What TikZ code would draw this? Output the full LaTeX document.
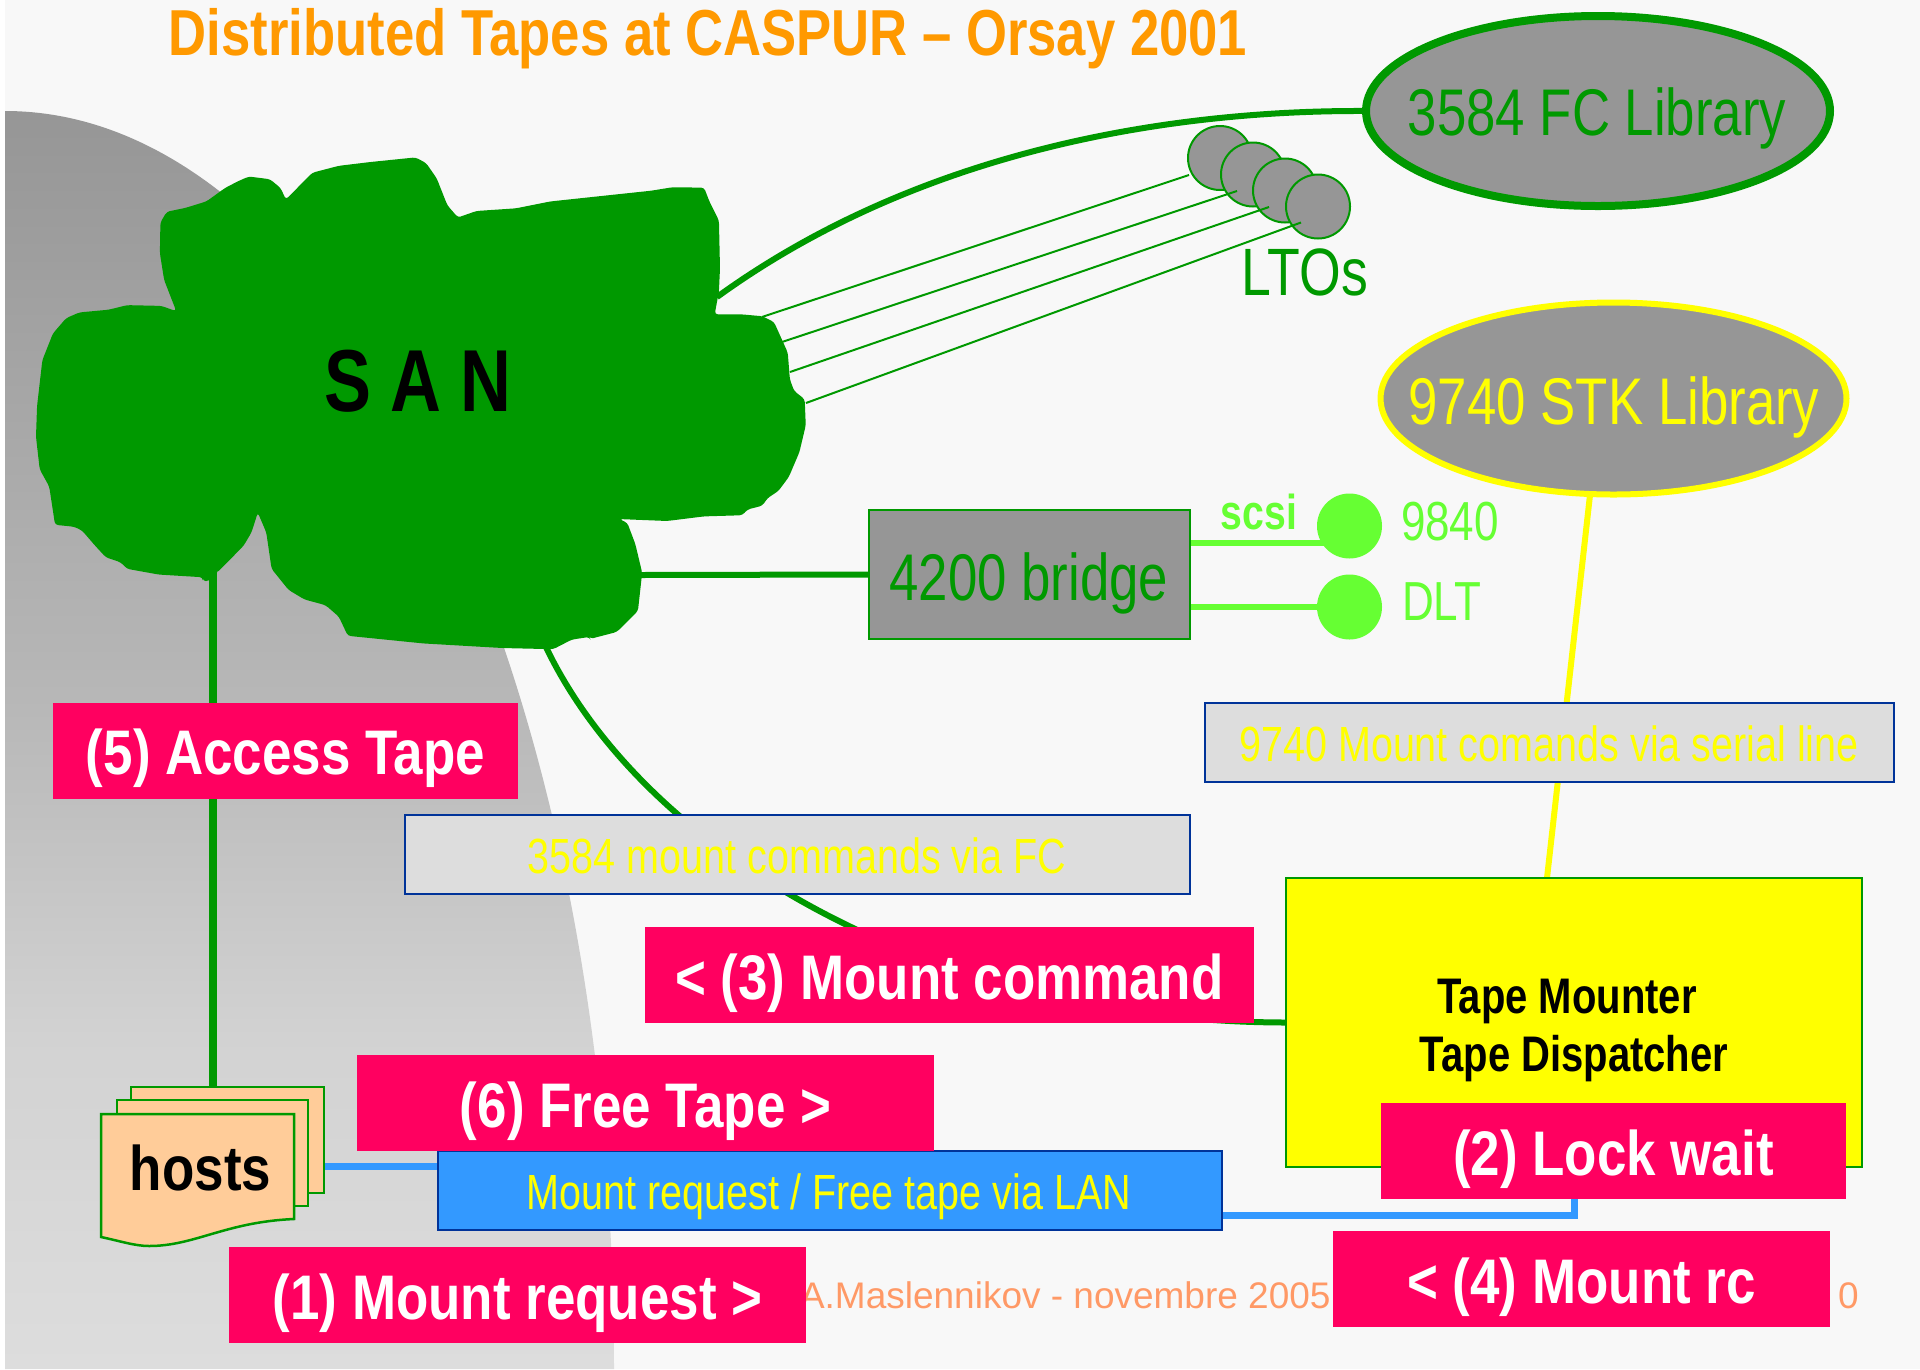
\documentclass[tikz,border=0pt]{standalone}
\usepackage{fontspec}
\usetikzlibrary{shapes.geometric}
\setmainfont{Liberation Sans}
\newfontfamily\cn[FakeStretch=0.8]{Liberation Sans}
\newfontfamily\cb[FakeStretch=0.84]{Liberation Sans}
\newfontfamily\ct[FakeStretch=0.81]{Liberation Sans}
\definecolor{gr}{HTML}{009900}
\definecolor{lg}{HTML}{66FF33}
\definecolor{rd}{HTML}{FF0060}
\definecolor{gy}{HTML}{969696}
\definecolor{bl}{HTML}{3399FF}
\definecolor{nv}{HTML}{003399}
\definecolor{lb}{HTML}{DDDDDD}
\definecolor{or}{HTML}{FF9900}
\definecolor{ft}{HTML}{FF9966}
\definecolor{pc}{HTML}{FFCC99}
\definecolor{pg}{HTML}{F8F8F8}
\definecolor{yl}{HTML}{FFFF00}
\pgfdeclareverticalshading{grayfade}{100bp}{color(0bp)=(lb); color(25bp)=(lb); color(38bp)=(lb!85!gy); color(51.5bp)=(lb!47!gy); color(75bp)=(gy); color(100bp)=(gy)}
\pgfdeclarelayer{base}
\pgfdeclarelayer{conn}
\pgfsetlayers{base,conn,main}
\tikzset{
  x=1pt,y=-1pt,inner sep=0pt,outer sep=0pt,
  redbox/.style={fill=rd,text=white,font={\fontsize{63}{70}\cb\bfseries},minimum height=96pt,text height=62pt,text depth=14pt},
  lblbox/.style={fill=lb,draw=nv,line width=2pt,minimum height=79pt},
  lbltext/.style={text=yl,font={\fontsize{49.4}{52}\cn}},
  thick green/.style={draw=gr,line width=6pt},
  thin green/.style={draw=gr,line width=2pt},
  scsi line/.style={draw=lg,line width=6pt},
  lan line/.style={draw=bl,line width=7pt},
  serial line/.style={draw=yl,line width=6pt},
  lib/.style={ellipse,fill=gy},
  libtext/.style={font={\fontsize{66}{70}\cn}},
  lto/.style={circle,fill=gy,draw=gr,line width=2pt,minimum size=64pt},
  drive/.style={ellipse,fill=lg,minimum width=65pt,minimum height=65pt},
  drivelabel/.style={text=lg,anchor=west,font={\fontsize{55}{58}\cn}},
  page/.style={fill=pc,draw=gr,line width=2.5pt},
}
\begin{document}
\begin{tikzpicture}
\useasboundingbox (0,0) rectangle (1920,1369);
\begin{pgfonlayer}{base}
\fill[white] (0,0) rectangle (1920,1369);
\fill[pg] (5,0) rectangle (1920,1369);
\shade[shading=grayfade] (5,1369) -- (5,111) arc[start angle=-90,end angle=0,x radius=609,y radius=1258] -- cycle;
\node[anchor=base west,text=ft,font={\fontsize{37}{40}\selectfont}] (foot) at (800,1308) {A.Maslennikov - novembre 2005};
\node[anchor=base west,text=ft,font={\fontsize{37}{40}\selectfont}] (footb) at (1838,1308) {0};
\end{pgfonlayer}

\node[text=or,font={\fontsize{65}{70}\ct\bfseries}] (title) at (708,39) {Distributed Tapes at CASPUR – Orsay 2001};

% SAN cloud (coordinates as read from a crop)
\begin{scope}[x=0.5294pt,y=-0.3827pt,shift={(0,261.3)}]
\fill[gr,rounded corners=3pt] (540,260)--(590,190)--(640,172)--(700,162)--(785,150)--(805,165)--(825,205)--(845,275)--(865,307)--(900,290)--(975,283)--(1040,265)--(1230,237)--(1270,228)--(1330,229)--(1340,265)--(1358,315)--(1360,440)--(1358,500)--(1350,560)--(1400,560)--(1440,565)--(1462,580)--(1488,660)--(1492,730)--(1500,760)--(1520,782)--(1522,850)--(1510,920)--(1490,985)--(1470,1022)--(1450,1040)--(1440,1060)--(1412,1070)--(1402,1085)--(1330,1088)--(1260,1100)--(1170,1095)--(1185,1105)--(1200,1160)--(1213,1235)--(1205,1335)--(1165,1390)--(1115,1408)--(1113,1403)--(1080,1410)--(1045,1435)--(950,1432)--(800,1420)--(657,1400)--(640,1350)--(615,1320)--(575,1305)--(545,1280)--(513,1225)--(503,1130)--(487,1078)--(475,1130)--(460,1165)--(410,1235)--(405,1235)--(395,1257)--(383,1257)--(383,1247)--(300,1240)--(240,1225)--(228,1208)--(200,1195)--(180,1165)--(155,1125)--(140,1115)--(104,1110)--(93,1010)--(75,965)--(68,880)--(70,800)--(80,680)--(100,610)--(125,570)--(150,555)--(205,548)--(240,536)--(305,538)--(333,552)--(310,470)--(302,400)--(303,320)--(315,292)--(350,282)--(390,265)--(425,230)--(450,212)--(470,200)--(510,207)--(530,230)--cycle;
\end{scope}
\node[font={\fontsize{88}{90}\cn\bfseries}] (san) at (418,381) {S A N};
\coordinate (sanNE) at (717,297);
\coordinate (sanE) at (640,575);
\coordinate (sanS) at (545,645);
\coordinate (sanW) at (213,570);
\coordinate (t1) at (762,317);
\coordinate (t2) at (782,342);
\coordinate (t3) at (790,372);
\coordinate (t4) at (806,403);

% libraries
\node[lib,minimum width=464pt,minimum height=190pt,draw=gr,line width=8pt] (fc) at (1598,111) {};
\node[libtext,text=gr] (fct) at (1597,118) {3584 FC Library};
\node[lib,minimum width=466pt,minimum height=192pt,draw=yl,line width=6pt] (stk) at (1613.5,398.5) {};
\node[libtext,text=yl] (stkt) at (1614,407) {9740 STK Library};

% LTO drives
\node[lto] (l1) at (1220,158) {};
\node[lto] (l2) at (1253,174.5) {};
\node[lto] (l3) at (1285,190.5) {};
\node[lto] (l4) at (1318,206.5) {};
\coordinate (e1) at (1189,175);
\coordinate (e2) at (1237,191);
\coordinate (e3) at (1269,207);
\coordinate (e4) at (1301,222.5);
\draw[thin green] (t1) -- (e1);
\draw[thin green] (t2) -- (e2);
\draw[thin green] (t3) -- (e3);
\draw[thin green] (t4) -- (e4);
\node[text=gr,font={\fontsize{67}{70}\cn}] (ltos) at (1305,272) {LTOs};

% bridge
\node[fill=gy,draw=gr,line width=2pt,minimum width=321pt,minimum height=129pt] (bridge) at (1029.5,574.5) {};
\node[libtext,text=gr] (bridget) at (1029,583) {4200 bridge};
\node[drive] (d1) at (1349.5,526) {};
\node[drive] (d2) at (1349.5,607) {};
\node[text=lg,font={\fontsize{49}{52}\cn\bfseries}] (scsi) at (1259,512) {scsi};
\node[drivelabel] (d1t) at (1401,522) {9840};
\node[drivelabel] (d2t) at (1402,602) {DLT};
\coordinate (sA) at (1190,543);
\coordinate (sB) at (1190,607);

% labels
\node[lblbox,minimum width=689pt] (serial) at (1549.5,742) {};
\node[lbltext] (serialt) at (1549,744) {9740 Mount comands via serial line};
\node[lblbox,minimum width=785pt] (fcl) at (797.5,854) {};
\node[lbltext] (fclt) at (797,856) {3584 mount commands via FC};

% tape mounter
\node[fill=yl,draw=gr,line width=2pt,minimum width=576pt,minimum height=289pt] (mount) at (1574,1022.5) {};
\node[font={\fontsize{50}{56}\cn\bfseries}] (mt1) at (1567,1001) {Tape Mounter};
\node[font={\fontsize{50}{56}\cn\bfseries}] (mt2) at (1574,1059) {Tape Dispatcher};

% hosts
\draw[page] (131,1087) rectangle (324,1193);
\draw[page] (117,1100) rectangle (308,1206);
\draw[page] (101,1114) -- (294,1114) -- (294,1219) .. controls (225,1222) and (195,1246) .. (149,1246) .. controls (135,1246) and (120,1241) .. (101,1237) -- cycle;
\node[font={\fontsize{63}{66}\cb\bfseries}] (hosts) at (200.5,1168) {hosts};
\coordinate (hostsTop) at (213,1087);
\coordinate (hostsE) at (324,1166);

% LAN box
\node[fill=bl,draw=nv,line width=2pt,minimum width=784pt,minimum height=79pt] (lan) at (829.5,1190.5) {};
\node[lbltext] (lant) at (829,1197) {Mount request / Free tape via LAN};

% red labels
\node[redbox,minimum width=465pt] (s5) at (285.5,750.5) {(5) Access Tape};
\node[redbox,minimum width=609pt] (s3) at (949.5,975) {< (3) Mount command};
\node[redbox,minimum width=577pt] (s6) at (645.5,1103) {(6) Free Tape >};
\node[redbox,minimum width=577pt] (s1) at (517.5,1295) {(1) Mount request >};
\node[redbox,minimum width=465pt] (s2) at (1613.5,1151) {(2) Lock wait};
\node[redbox,minimum width=497pt] (s4) at (1581.5,1279) {< (4) Mount rc};

% connectors
\begin{pgfonlayer}{conn}
\draw[thick green] (sanNE) .. controls (920,150) and (1170,110) .. (fc.west);
\draw[thick green,line width=8pt] (sanW) -- (hostsTop);
\draw[thick green] (sanE) -- (bridge.west);
\draw[thick green] (sanS) .. controls (642,850) and (930,1022) .. (mount.west);
\draw[scsi line] (sA) -- (sA -| d1.center);
\draw[scsi line] (sB) -- (d2.center);
\coordinate (stkB) at (1590,495);
\coordinate (mountT) at (1547,878);
\draw[serial line] (stkB) -- (mountT);
\draw[lan line] (hostsE) -- (hostsE -| lan.west);
\coordinate (lanE) at (1222,1215);
\coordinate (mountB) at (1574,1167);
\draw[lan line] (lanE) -- (lanE -| mountB) -- (mountB);
\end{pgfonlayer}
\end{tikzpicture}
\end{document}
